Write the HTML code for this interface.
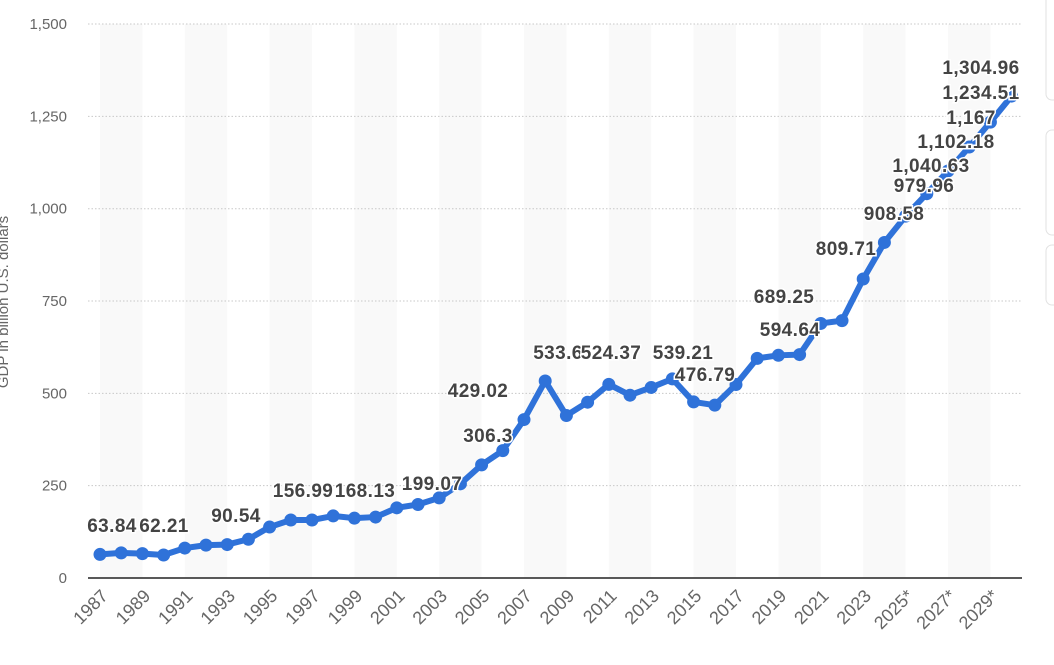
<!DOCTYPE html>
<html><head><meta charset="utf-8"><style>
body{margin:0;background:#fff;width:1054px;height:660px;overflow:hidden;font-family:"Liberation Sans",sans-serif}
</style></head><body>
<svg id="s" width="1054" height="660" xmlns="http://www.w3.org/2000/svg"></svg>
<script>
const s=document.getElementById('s');let h='';
const X=i=>100+i*21.2, Y=v=>578-v*0.3693;
for(let k=0;k<11;k++){h+=`<rect x="${100+k*84.8}" y="24" width="42.4" height="554" fill="#f9f9f9"/>`;}
for(let v=250;v<=1500;v+=250){h+=`<line x1="88" x2="1022" y1="${Y(v)}" y2="${Y(v)}" stroke="#c8c8c8" stroke-dasharray="1.5,2"/>`;}
h+=`<line x1="88" x2="1022" y1="578" y2="578" stroke="#222" stroke-width="1.5"/>`;
['0','250','500','750','1,000','1,250','1,500'].forEach((t,i)=>{h+=`<text x="67" y="${Y(i*250)+5}" text-anchor="end" font-size="15" fill="#666">${t}</text>`});
h+=`<text transform="translate(8,302) rotate(-90)" text-anchor="middle" font-size="15" fill="#666">GDP in billion U.S. dollars</text>`;
for(let y=1987;y<=2029;y+=2){const i=y-1987;const lab=y+(y>=2025?'*':'');h+=`<text transform="translate(${X(i)+9},597) rotate(-45)" text-anchor="end" font-size="18" fill="#666">${lab}</text>`;}
const d=[63.84,68,66,62.21,81,89,90.54,105,138,156.99,157,168.13,162,165,190,199.07,217,255,306.3,345,429.02,533.6,440,476,524.37,495,516,539.21,476.79,468,524,594.64,603,605,689.25,697,809.71,908.58,979.96,1040.63,1102.18,1167,1234.51,1304.96];
h+=`<polyline fill="none" stroke="#2f72d9" stroke-width="6" stroke-linejoin="round" points="${d.map((v,i)=>X(i)+','+Y(v)).join(' ')}"/>`;
d.forEach((v,i)=>{h+=`<circle cx="${X(i)}" cy="${Y(v)}" r="6.5" fill="#2f72d9"/>`});
const L=[['63.84',112,532],['62.21',164,532],['90.54',236,522],['156.99',303,497],['168.13',365,497],['199.07',432,490],['306.3',488,442],['429.02',478,397],['533.6',558,359],['524.37',611,359],['539.21',683,359],['476.79',705,381],['594.64',790,336],['689.25',784,303],['809.71',846,255],['908.58',894,220],['979.96',924,192],['1,040.63',931,172],['1,102.18',956,148],['1,167',971,124],['1,234.51',981,99],['1,304.96',981,74]];
L.forEach(([t,x,y])=>{h+=`<text x="${x}" y="${y}" text-anchor="middle" font-size="19" font-weight="bold" fill="#444" stroke="#fff" stroke-width="3" paint-order="stroke" letter-spacing="0.4">${t}</text>`});
[[-10,100],[130,235],[245,305]].forEach(([a,b])=>{h+=`<rect x="1046" y="${a}" width="20" height="${b-a}" rx="6" fill="#fff" stroke="#e2e2e2"/>`});
s.innerHTML=h;
</script>
</body></html>
